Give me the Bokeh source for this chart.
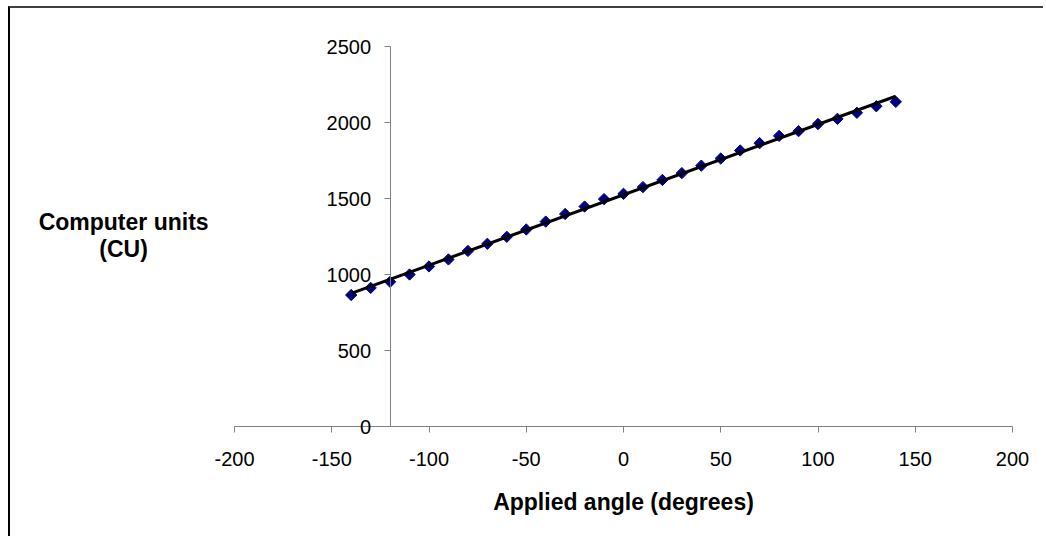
import numpy as np
from bokeh.plotting import figure
from bokeh.models import Range1d, FixedTicker, Label, ColumnDataSource
from bokeh.embed import file_html
from bokeh.resources import INLINE

# ---- data ----
angles = [-140, -130, -120, -110, -100, -90, -80, -70, -60, -50, -40, -30, -20, -10,
          0, 10, 20, 30, 40, 50, 60, 70, 80, 90, 100, 110, 120, 130, 140]
cu = [865, 912, 952, 1000, 1053, 1099, 1155, 1202, 1248, 1296, 1348, 1398, 1447, 1496,
      1531, 1575, 1622, 1667, 1716, 1763, 1816, 1864, 1912, 1943, 1990, 2024, 2064, 2107, 2136]
x_ticks = [-200, -150, -100, -50, 0, 50, 100, 150, 200]
y_ticks = [0, 500, 1000, 1500, 2000, 2500]
x_title = "Applied angle (degrees)"
y_title = "Computer units\n(CU)"

# linear trendline from the data
coef = np.polyfit(angles, cu, 1)
trend_x = [min(angles), max(angles)]
trend_y = [coef[0] * v + coef[1] for v in trend_x]

# ---- layout: the frame covers the whole canvas; axes are placed at fixed data positions ----
W, H = 1035, 530          # canvas size
OX, OY = 10, 8            # canvas origin on the page
PX_X0, PX_X1 = 234, 1012  # page x of -200 and 200
PX_Y0, PX_Y1 = 426, 46    # page y of 0 and 2500
sx = (PX_X1 - PX_X0) / 400.0
sy = (PX_Y0 - PX_Y1) / 2500.0
x_lo = -200 + (OX - PX_X0) / sx
x_hi = -200 + (OX + W - PX_X0) / sx
y_hi = (PX_Y0 - OY) / sy
y_lo = (PX_Y0 - (OY + H)) / sy

FONT = "Liberation Sans"

p = figure(width=W, height=H, output_backend="svg", toolbar_location=None,
           x_range=Range1d(x_lo, x_hi), y_range=Range1d(y_lo, y_hi),
           min_border=0, min_border_left=0, min_border_right=0,
           min_border_top=0, min_border_bottom=0)
p.outline_line_color = None
p.xgrid.visible = False
p.ygrid.visible = False
p.background_fill_color = "white"
p.border_fill_color = "white"
p.styles = {"margin-left": "8px", "margin-top": "6px",
            "border-left": "2px solid black", "border-top": "2px solid #404040"}

# x axis along y = 0
xa = p.xaxis[0]
xa.fixed_location = 0
xa.bounds = (-200, 200)
xa.ticker = FixedTicker(ticks=x_ticks)
xa.major_label_overrides = {t: str(t) for t in x_ticks}
xa.axis_line_color = "#808080"
xa.major_tick_line_color = "#808080"
xa.major_tick_out = 6
xa.major_tick_in = 0
xa.minor_tick_line_color = None
xa.major_label_text_font = FONT
xa.major_label_text_font_size = "20px"
xa.major_label_text_color = "black"
xa.major_label_standoff = 19
xa.axis_label = x_title
xa.axis_label_text_font = FONT
xa.axis_label_text_font_size = "23px"
xa.axis_label_text_font_style = "bold"
xa.axis_label_text_color = "black"
xa.axis_label_standoff = 20

# y axis crossing at -120
ya = p.yaxis[0]
ya.fixed_location = -120
ya.bounds = (0, 2500)
ya.ticker = FixedTicker(ticks=y_ticks)
ya.major_label_overrides = {t: str(t) for t in y_ticks}
ya.axis_line_color = "#808080"
ya.major_tick_line_color = "#808080"
ya.major_tick_out = 6
ya.major_tick_in = 0
ya.minor_tick_line_color = None
ya.major_label_text_font = FONT
ya.major_label_text_font_size = "20px"
ya.major_label_text_color = "black"
ya.major_label_standoff = 13

lbl = Label(x=-257, y=1255, text=y_title, text_font=FONT, text_font_size="23px",
            text_font_style="bold", text_align="center", text_baseline="middle",
            text_line_height=1.05, text_color="black")
p.add_layout(lbl)

src = ColumnDataSource(dict(x=angles, y=cu))
p.scatter("x", "y", source=src, marker="square", angle=np.pi / 4, size=8,
          fill_color="#000080", line_color="#000080")
p.line(trend_x, trend_y, line_color="black", line_width=3)

open("out.html", "w").write(file_html(p, INLINE))
